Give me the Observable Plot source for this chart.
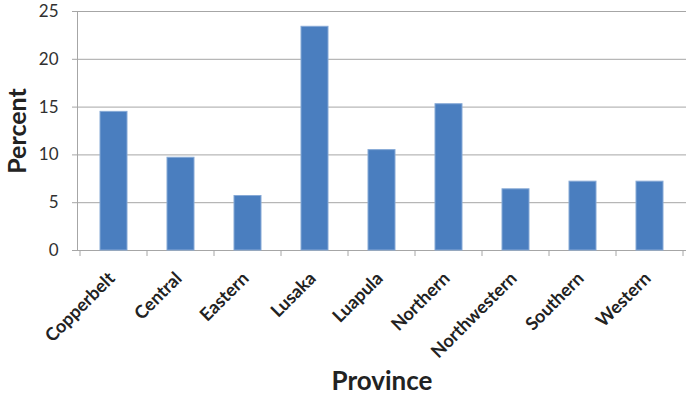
<!DOCTYPE html>
<html>
<head>
<meta charset="utf-8">
<script src="https://cdn.jsdelivr.net/npm/d3@7"></script>
<script src="https://cdn.jsdelivr.net/npm/@observablehq/plot@0.6"></script>
<style>
  html, body { margin: 0; padding: 0; background: #fff; }
</style>
</head>
<body>
<div id="chart"></div>
<script>
const provinces = ["Copperbelt", "Central", "Eastern", "Lusaka", "Luapula", "Northern", "Northwestern", "Southern", "Western"];
const percents = [14.5, 9.7, 5.7, 23.4, 10.5, 15.3, 6.4, 7.2, 7.2];
const yTicks = [0, 5, 10, 15, 20, 25];
const yTitle = "Percent";
const xTitle = "Province";

const data = provinces.map((p, i) => ({province: p, percent: percents[i]}));

const gridColor = "#a6a6a6";
const font = "Lato, 'Open Sans', sans-serif";

// tick marks at the category boundaries (Excel style)
function boundaryTicks(index, scales, values, dims) {
  const x = scales.x;
  const step = x.step();
  const half = (step - x.bandwidth()) / 2;
  const y0 = dims.height - dims.marginBottom;
  const g = d3.create("svg:g");
  const xs = provinces.map(p => x(p) - half);
  xs.push(x(provinces[provinces.length - 1]) + x.bandwidth() + half);
  for (const bx of xs) {
    g.append("line")
      .attr("x1", bx).attr("x2", bx)
      .attr("y1", y0).attr("y2", y0 + 6)
      .attr("stroke", gridColor);
  }
  return g.node();
}

const chart = Plot.plot({
  width: 687,
  height: 403,
  marginLeft: 77,
  marginRight: 1,
  marginTop: 11,
  marginBottom: 153,
  style: {fontFamily: font, background: "#fff"},
  x: {domain: provinces, paddingInner: 0.6, paddingOuter: 0.3, axis: null},
  y: {domain: [0, 25], axis: null},
  marks: [
    Plot.gridY(yTicks, {stroke: gridColor, strokeOpacity: 1, strokeWidth: 1}),
    Plot.axisY(yTicks, {tickSize: 5, tickPadding: 14, stroke: gridColor, fill: "#303030", fontSize: 17, label: null}),
    Plot.frame({anchor: "left", stroke: gridColor}),
    Plot.barY(data, {x: "province", y: "percent", fill: "#4a7ebf", stroke: "#86a9d6", strokeWidth: 1}),
    boundaryTicks,
    Plot.text(provinces, {x: d => d, frameAnchor: "bottom", rotate: -45, textAnchor: "end", dx: 2, dy: 29, fontSize: 18, fontWeight: "bold", fill: "#222"}),
    Plot.text([yTitle], {frameAnchor: "left", textAnchor: "middle", dx: -60, rotate: -90, fontSize: 25, fontWeight: "bold", fill: "#222"}),
    Plot.text([xTitle], {frameAnchor: "bottom", textAnchor: "middle", dy: 139, fontSize: 26, fontWeight: "bold", fill: "#222"})
  ]
});

document.getElementById("chart").appendChild(chart);
</script>
</body>
</html>
